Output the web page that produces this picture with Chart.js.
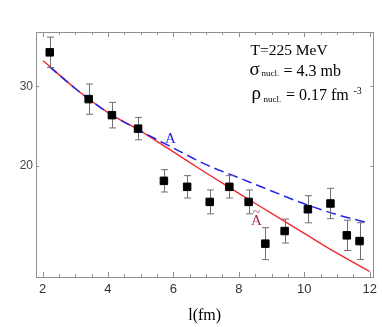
<!DOCTYPE html>
<html>
<head>
<meta charset="utf-8">
<script src="https://cdn.jsdelivr.net/npm/chart.js@4.4.0/dist/chart.umd.min.js"></script>
<style>
  html, body { margin: 0; padding: 0; background: #fff; }
  #wrap { position: relative; width: 382px; height: 327px; }
</style>
</head>
<body>
<div id="wrap"><canvas id="c"></canvas></div>
<script>
// measured points: l (fm) vs value, with error bars
const lValues = [2.22, 3.41, 4.12, 4.92, 5.71, 6.42, 7.11, 7.71, 8.30, 8.81, 9.40, 10.11, 10.80, 11.30, 11.69];
const yValues = [34.25, 28.39, 26.38, 24.69, 18.15, 17.40, 15.51, 17.40, 15.51, 10.28, 11.86, 14.59, 15.31, 11.32, 10.60];
const yErrors = [1.9, 1.9, 1.6, 1.4, 1.4, 1.4, 1.5, 1.4, 1.5, 2.0, 1.5, 1.7, 1.9, 1.9, 2.3];

// red solid curve (A tilde)
const tildeL = [2.02, 3, 4, 5, 6, 7, 8, 9, 10, 11, 12];
const tildeValues = [33.2, 29.72, 26.70, 24.39, 21.77, 19.13, 16.57, 14.08, 11.57, 9.08, 6.79];

// blue dashed curve (A)
const dashL = [2.2, 3, 4, 5, 6, 7, 8, 9, 10, 11, 12];
const dashValues = [32.5, 29.72, 26.70, 24.39, 22.26, 20.18, 18.53, 16.88, 15.27, 13.91, 12.84];

const xTickValues = [2, 4, 6, 8, 10, 12];
const yTickValues = [20, 30];

const toXY = (xs, ys) => xs.map((v, i) => ({ x: v, y: ys[i] }));

// frame with inward ticks, Mathematica style
const frameTicks = {
  id: 'frameTicks',
  beforeDatasetsDraw(chart) {
    const { ctx, chartArea: a, scales: { x, y } } = chart;
    ctx.save();
    ctx.strokeStyle = '#8f8f8f';
    ctx.lineWidth = 1;
    ctx.strokeRect(Math.round(a.left) + 0.5, Math.round(a.top) + 0.5,
      Math.round(a.right - a.left), Math.round(a.bottom - a.top));
    ctx.beginPath();
    for (let v = 2; v <= 12.001; v += 0.5) {
      const px = Math.round(x.getPixelForValue(v)) + 0.5;
      const len = xTickValues.includes(v) ? 5 : 3;
      ctx.moveTo(px, a.bottom); ctx.lineTo(px, a.bottom - len);
      ctx.moveTo(px, a.top); ctx.lineTo(px, a.top + len);
    }
    yTickValues.forEach(v => {
      const py = Math.round(y.getPixelForValue(v)) + 0.5;
      ctx.moveTo(a.left, py); ctx.lineTo(a.left + 3, py);
      ctx.moveTo(a.right, py); ctx.lineTo(a.right - 3, py);
    });
    ctx.stroke();
    ctx.restore();
  }
};

// error bars drawn just before the squares
const errorBars = {
  id: 'errorBars',
  beforeDatasetDraw(chart, args) {
    if (args.index !== 0) return;
    const { ctx, scales: { x, y } } = chart;
    ctx.save();
    ctx.strokeStyle = '#707070';
    ctx.lineWidth = 1;
    ctx.beginPath();
    lValues.forEach((l, i) => {
      const px = Math.round(x.getPixelForValue(l)) + 0.5;
      const top = y.getPixelForValue(yValues[i] + yErrors[i]);
      const bot = y.getPixelForValue(yValues[i] - yErrors[i]);
      ctx.moveTo(px, top); ctx.lineTo(px, bot);
      ctx.moveTo(px - 3.5, top); ctx.lineTo(px + 3.5, top);
      ctx.moveTo(px - 3.5, bot); ctx.lineTo(px + 3.5, bot);
    });
    ctx.stroke();
    ctx.restore();
  }
};

// curve labels and parameter block
const notes = {
  id: 'notes',
  afterDatasetsDraw(chart) {
    const { ctx, scales: { x, y } } = chart;
    ctx.save();
    ctx.textBaseline = 'alphabetic';
    ctx.textAlign = 'center';
    ctx.font = '15px "Liberation Serif"';
    ctx.fillStyle = '#2424e6';
    ctx.fillText('A', x.getPixelForValue(5.91), y.getPixelForValue(22.85));
    ctx.fillStyle = '#a8284c';
    ctx.fillText('A', x.getPixelForValue(8.54), y.getPixelForValue(12.58));
    ctx.font = '13px "Liberation Serif"';
    ctx.textBaseline = 'middle';
    ctx.fillText('~', x.getPixelForValue(8.54), y.getPixelForValue(14.2));

    ctx.textBaseline = 'alphabetic';
    ctx.textAlign = 'left';
    ctx.fillStyle = '#000';
    ctx.font = '15.5px "Liberation Serif"';
    ctx.fillText('T=225 MeV', 250.5, 55);

    ctx.font = '19px "Liberation Serif"';
    ctx.fillText('\u03C3', 249.5, 75);
    ctx.font = '9px "Liberation Serif"';
    ctx.fillText('nucl.', 261.5, 76);
    ctx.font = '16px "Liberation Serif"';
    ctx.fillText('= 4.3 mb', 283.5, 76);

    ctx.font = '19px "Liberation Serif"';
    ctx.fillText('\u03C1', 251.5, 99);
    ctx.font = '9px "Liberation Serif"';
    ctx.fillText('nucl.', 263.5, 101.5);
    ctx.font = '16px "Liberation Serif"';
    ctx.fillText('= 0.17 fm', 286, 100);
    ctx.font = '10px "Liberation Serif"';
    ctx.fillText('-3', 353.5, 94);
    ctx.restore();
  }
};

new Chart(document.getElementById('c'), {
  type: 'scatter',
  data: {
    datasets: [
      {
        data: toXY(lValues, yValues),
        order: 0,
        pointStyle: 'rect',
        pointRadius: 5.3,
        pointBackgroundColor: '#000',
        pointBorderColor: '#000',
        pointBorderWidth: 1
      },
      {
        data: toXY(dashL, dashValues),
        order: 1,
        showLine: true,
        pointRadius: 0,
        borderColor: '#2424ee',
        borderWidth: 1.5,
        borderDash: [10, 5],
        cubicInterpolationMode: 'monotone'
      },
      {
        data: toXY(tildeL, tildeValues),
        order: 2,
        showLine: true,
        pointRadius: 0,
        borderColor: '#f22a30',
        borderWidth: 1.4,
        cubicInterpolationMode: 'monotone'
      }
    ]
  },
  options: {
    responsive: true,
    maintainAspectRatio: false,
    animation: false,
    layout: { padding: { left: 0, right: 6, top: 32, bottom: 0 } },
    plugins: {
      legend: { display: false },
      tooltip: { enabled: false }
    },
    scales: {
      x: {
        type: 'linear',
        min: 1.8,
        max: 12.11,
        afterBuildTicks: s => { s.ticks = xTickValues.map(v => ({ value: v })); },
        afterFit: s => { s.height = 50; },
        grid: { display: false, drawTicks: false },
        border: { display: false },
        ticks: {
          padding: 5,
          color: '#333',
          font: { family: 'Liberation Sans', size: 13 },
          maxRotation: 0
        },
        title: {
          display: true,
          text: 'l(fm)',
          color: '#000',
          font: { family: 'Liberation Serif', size: 16 },
          padding: { top: 0, bottom: 2 }
        }
      },
      y: {
        type: 'linear',
        min: 6.1,
        max: 36.8,
        afterBuildTicks: s => { s.ticks = yTickValues.map(v => ({ value: v })); },
        afterFit: s => { s.width = 36; },
        grid: { display: false, drawTicks: false },
        border: { display: false },
        ticks: {
          padding: 3,
          color: '#444',
          font: { family: 'Liberation Sans', size: 12 }
        }
      }
    }
  },
  plugins: [frameTicks, errorBars, notes]
});
</script>
</body>
</html>
